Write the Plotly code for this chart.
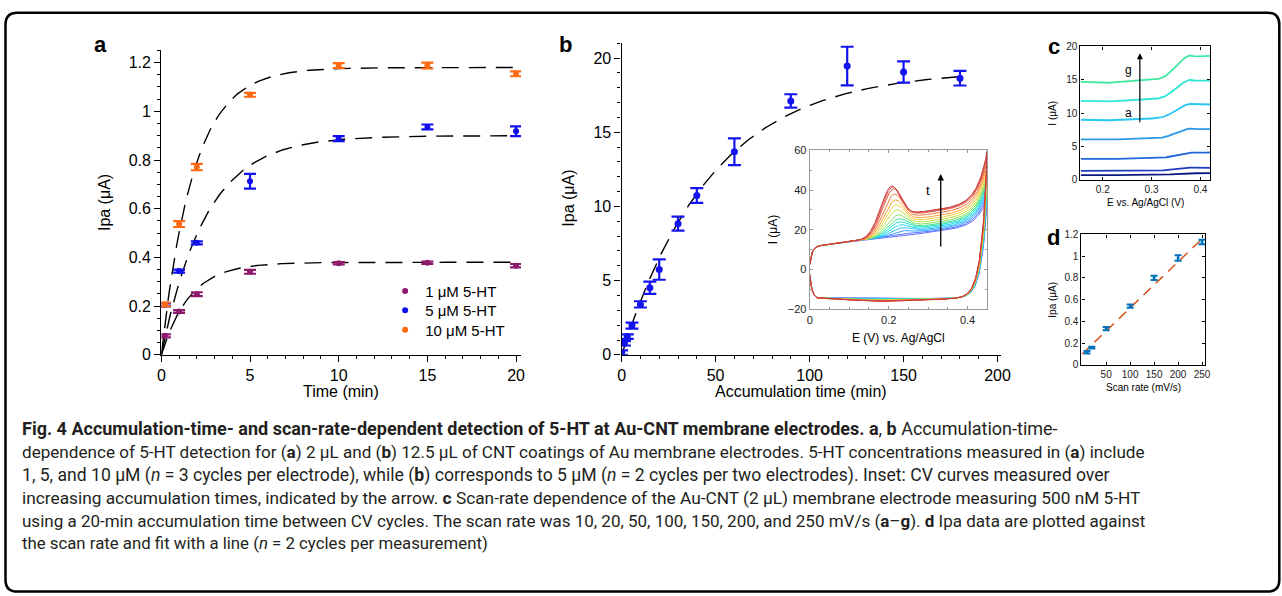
import numpy as np
import plotly.graph_objects as go

W, H = 1282, 596

# ---------------- Panel a data ----------------
a_time = [0.2, 1, 2, 5, 10, 15, 20]
a_1uM = [0.078, 0.178, 0.249, 0.341, 0.376, 0.378, 0.366]
a_1uM_err = [0.006, 0.006, 0.008, 0.008, 0.005, 0.005, 0.007]
a_5uM = [0.205, 0.344, 0.460, 0.713, 0.888, 0.936, 0.918]
a_5uM_err = [0.006, 0.006, 0.006, 0.030, 0.010, 0.010, 0.020]
a_10uM = [0.207, 0.537, 0.771, 1.068, 1.188, 1.188, 1.154]
a_10uM_err = [0.008, 0.012, 0.013, 0.008, 0.010, 0.012, 0.010]
a_names = ["1 \u03bcM 5-HT", "5 \u03bcM 5-HT", "10 \u03bcM 5-HT"]
a_colors = ["#8e1a6e", "#1010ee", "#ff6a13"]
# exponential fit parameters (plateau, time constant) per concentration
a_fit_plateau = [0.38, 0.90, 1.18]
a_fit_tau = [1.6, 2.5, 1.8]

# ---------------- Panel b data ----------------
b_time = [0, 1.5, 3, 5.5, 10, 15, 20, 30, 40, 60, 90, 120, 150, 180]
b_ipa = [0.15, 0.78, 1.23, 1.97, 3.40, 4.52, 5.75, 8.84, 10.74, 13.69, 17.11, 19.46, 19.06, 18.64]
b_err = [0.15, 0.15, 0.15, 0.20, 0.21, 0.41, 0.69, 0.47, 0.50, 0.90, 0.45, 1.30, 0.72, 0.49]
b_fit_plateau = 19.2
b_fit_tau = 48.0

# ---------------- Inset (CV curves) ----------------
cv_peak = [17, 18, 19.5, 21, 22.5, 24, 25.5, 27.5, 30, 32.5, 35, 38, 40.5, 41.5, 42]
cv_end = [36, 38, 40, 41.5, 43, 44.5, 46, 47.5, 49, 51, 53, 55, 57, 58.5, 60]
cv_colors = ["#6a6aff", "#4f7dff", "#3a9cff", "#2ec0ff", "#22d8f0", "#20e0c8", "#40e090",
             "#80e060", "#c0e040", "#f0d040", "#f8a030", "#f07838", "#e05a40", "#d84848", "#cc3c3c"]

# ---------------- Panel c ----------------
c_start = [0.7, 1.3, 3.1, 6.0, 8.9, 11.7, 14.5]
c_step = [0.25, 0.45, 0.85, 1.45, 2.15, 2.85, 3.6]
c_end = [1.0, 1.8, 4.1, 7.6, 11.3, 14.9, 18.6]
c_colors = ["#0c1a80", "#1c3cc0", "#1f66dc", "#2a9ae6", "#29c8f2", "#2ee6d6", "#3ee8a0"]

# ---------------- Panel d ----------------
d_rate = [10, 20, 50, 100, 150, 200, 250]
d_ipa = [0.116, 0.159, 0.333, 0.541, 0.801, 0.984, 1.131]
d_err = [0.012, 0.008, 0.015, 0.015, 0.020, 0.025, 0.020]
d_slope = 0.00424
d_intercept = 0.10

FONT = "Liberation Sans, Arial, Helvetica, sans-serif"
CAPFONT = "Roboto, Open Sans, sans-serif"

# screen-pixel -> paper mapping (compensates the capture's slight scale/offset)
SX, OX, SY, OY = 0.99, 2.5, 0.98, 4.3


def PX(p):
    return ((p - OX) / SX) / W


def PY(p):
    return 1 - ((p - OY) / SY) / H


fig = go.Figure()


def err_trace(x, y, err, color, xa, ya, size, capw, thick, name=None, legend=None):
    kw = dict(showlegend=False)
    if legend:
        kw = dict(showlegend=True, legend=legend)
    fig.add_trace(go.Scatter(
        x=x, y=y, mode="markers", name=name,
        marker=dict(color=color, size=size),
        error_y=dict(type="data", array=err, color=color, thickness=thick, width=capw),
        xaxis=xa, yaxis=ya, **kw))


# ---- panel a ----
ta = np.linspace(0, 20, 301)
for P, tau in zip(a_fit_plateau, a_fit_tau):
    fig.add_trace(go.Scatter(x=ta, y=P * (1 - np.exp(-ta / tau)), mode="lines",
                             line=dict(color="black", width=1.4, dash="17px,10px"),
                             showlegend=False, xaxis="x", yaxis="y", hoverinfo="skip"))
for ys, es, col, nm, lg in zip([a_1uM, a_5uM, a_10uM], [a_1uM_err, a_5uM_err, a_10uM_err],
                               a_colors, a_names, ["legend", "legend2", "legend3"]):
    err_trace(a_time, ys, es, col, "x", "y", 6, 6, 2.2, nm, lg)

# ---- panel b ----
tb = np.linspace(0, 180, 301)
fig.add_trace(go.Scatter(x=tb, y=b_fit_plateau * (1 - np.exp(-tb / b_fit_tau)), mode="lines",
                         line=dict(color="black", width=1.4, dash="17px,10px"),
                         showlegend=False, xaxis="x2", yaxis="y2", hoverinfo="skip"))
err_trace(b_time, b_ipa, b_err, "#1414f0", "x2", "y2", 7, 6.5, 2.2)

# ---- inset CVs ----
N = len(cv_peak)
E_up = np.linspace(0, 0.45, 300)
E_dn = E_up[::-1]


def base(E):
    return 12 + 24 * (E - 0.02) - 9 * np.exp(-E / 0.006)


for k in range(N):
    mu = 0.24 - 0.032 * k / (N - 1)
    P = cv_peak[k] - base(mu)
    r = 0.42
    shape = np.where(E_up < mu, np.exp(-((E_up - mu) / 0.04) ** 2),
                     r + (1 - r) * np.exp(-((E_up - mu) / 0.03) ** 2))
    R = cv_end[k] - (base(0.45) + r * P)
    I_up = base(E_up) + P * shape + R * np.exp((E_up - 0.45) / 0.025)
    dk = 1.5 * k / (N - 1)
    I_dn = (-14.5 - dk * np.exp(-((E_dn - 0.2) / 0.12) ** 2)
            + (cv_end[k] + 14.5) * np.exp((E_dn - 0.45) / 0.015)
            + 12 * np.exp(-E_dn / 0.006))
    fig.add_trace(go.Scatter(x=np.concatenate([E_up, E_dn]), y=np.concatenate([I_up, I_dn]),
                             mode="lines", line=dict(color=cv_colors[k], width=1),
                             showlegend=False, xaxis="x3", yaxis="y3", hoverinfo="skip"))

# ---- panel c ----
Ec = np.linspace(0.155, 0.42, 300)
for v0, h, ve, col in zip(c_start, c_step, c_end, c_colors):
    I = (v0 + 0.05 * h * np.clip((0.2 - Ec) / 0.045, 0, 1)
         + 0.12 * h * np.clip((Ec - 0.2) / 0.1, 0, 1)
         + h / (1 + np.exp(-(Ec - 0.345) / 0.011))
         + 0.08 * h * np.exp(-((Ec - 0.376) / 0.01) ** 2))
    I = I + (ve - (v0 + 1.12 * h)) * np.clip((Ec - 0.4) / 0.02, 0, 1)
    fig.add_trace(go.Scatter(x=Ec, y=I, mode="lines", line=dict(color=col, width=1.8),
                             showlegend=False, xaxis="x4", yaxis="y4", hoverinfo="skip"))

# ---- panel d ----
xd = np.linspace(0, 252, 50)
fig.add_trace(go.Scatter(x=xd, y=d_intercept + d_slope * xd, mode="lines",
                         line=dict(color="#D95319", width=1.5, dash="10px,7px"),
                         showlegend=False, xaxis="x5", yaxis="y5", hoverinfo="skip"))
err_trace(d_rate, d_ipa, d_err, "#0072BD", "x5", "y5", 3, 3.5, 2)


def dx(p0, p1):
    return [PX(p0), PX(p1)]


def dy(top, bottom):
    return [PY(bottom), PY(top)]


def big_axis(domain, rng, dtick, minor, anchor):
    return dict(domain=domain, range=rng, dtick=dtick, tick0=0, anchor=anchor,
                showgrid=False, zeroline=False, showline=True, linecolor="black", linewidth=1.4,
                ticks="outside", ticklen=6, tickwidth=1.2, tickcolor="black",
                minor=dict(dtick=minor, ticks="outside", ticklen=3, tickcolor="black", showgrid=False),
                tickfont=dict(family=FONT, size=16, color="black"))


def small_axis(domain, rng, anchor, lc, size, **kw):
    d = dict(domain=domain, range=rng, anchor=anchor, showgrid=False, zeroline=False,
             showline=True, linecolor=lc, linewidth=1.2, mirror="ticks",
             ticks="inside", ticklen=3, tickcolor=lc,
             tickfont=dict(family=FONT, size=size, color="#222"))
    d.update(kw)
    return d


def leg(py):
    return dict(x=PX(384), y=PY(py), xanchor="left", yanchor="middle",
                bgcolor="rgba(0,0,0,0)", font=dict(family=FONT, size=15, color="black"),
                itemwidth=30)


layout = dict(
    width=W, height=H, margin=dict(l=0, r=0, t=0, b=0),
    paper_bgcolor="white", plot_bgcolor="white",
    xaxis=big_axis(dx(160, 520), [0, 20.28], 5, 1, "y"),
    yaxis=big_axis(dy(49, 355), [0, 1.25], 0.2, 0.05, "x"),
    xaxis2=big_axis(dx(620.7, 1000), [0, 201.6], 50, 10, "y2"),
    yaxis2=big_axis(dy(41.7, 355), [0, 21], 5, 1, "x2"),
    xaxis3=small_axis(dx(809, 986.7), [0, 0.45], "y3", "#999", 11, dtick=0.2, tick0=0,
                      minor=dict(dtick=0.05, ticks="inside", ticklen=2, tickcolor="#999")),
    yaxis3=small_axis(dy(149.3, 309.3), [-20, 60], "x3", "#999", 11, dtick=20, tick0=0,
                      minor=dict(dtick=10, ticks="inside", ticklen=2, tickcolor="#999")),
    xaxis4=small_axis(dx(1080, 1210), [0.1544, 0.4205], "y4", "black", 10, dtick=0.1, tick0=0),
    yaxis4=small_axis(dy(45, 179), [0, 20], "x4", "black", 10, dtick=5, tick0=0),
    xaxis5=small_axis(dx(1081, 1205), [-1.5, 257], "y5", "black", 10, tickvals=[50, 100, 150, 200, 250]),
    yaxis5=small_axis(dy(234, 365), [0, 1.2], "x5", "black", 10, dtick=0.2, tick0=0),
    legend=leg(291), legend2=leg(310.5), legend3=leg(330),
    showlegend=True,
)
fig.update_layout(**layout)

anns = []


def ann(text, px, py, size, angle=0, xanchor="center", family=FONT, color="black"):
    anns.append(dict(text=text, x=PX(px), y=PY(py), xref="paper", yref="paper",
                     showarrow=False, textangle=angle, xanchor=xanchor, yanchor="middle",
                     font=dict(family=family, size=size, color=color)))


# panel letters
ann("<b>a</b>", 99, 43, 22)
ann("<b>b</b>", 565, 43, 22)
ann("<b>c</b>", 1053, 45, 22)
ann("<b>d</b>", 1053, 237, 22)
# axis titles
ann("Time (min)", 340, 392, 16)
ann("Ipa (\u03bcA)", 103, 202, 16, -90)
ann("Accumulation time (min)", 800, 392, 16)
ann("Ipa (\u03bcA)", 568, 197, 16, -90)
ann("E (V) vs. Ag/AgCl", 898, 338, 12)
ann("I (\u03bcA)", 772, 229, 12, -90)
ann("E vs. Ag/AgCl (V)", 1145, 202, 10)
ann("I (\u03bcA)", 1052, 112, 10, -90)
ann("Scan rate (mV/s)", 1143, 388, 10)
ann("Ipa (\u03bcA)", 1052, 300, 10, -90)

# arrows and labels in data coordinates
anns.append(dict(x=0.332, y=48, ax=0.332, ay=10.8, xref="x3", yref="y3", axref="x3", ayref="y3",
                 showarrow=True, arrowhead=2, arrowsize=1, arrowwidth=1.3, arrowcolor="black", text=""))
anns.append(dict(x=0.299, y=40, xref="x3", yref="y3", text="t", showarrow=False,
                 font=dict(family=FONT, size=13, color="black")))
anns.append(dict(x=0.276, y=19, ax=0.276, ay=8.4, xref="x4", yref="y4", axref="x4", ayref="y4",
                 showarrow=True, arrowhead=2, arrowsize=1, arrowwidth=1.2, arrowcolor="black", text=""))
anns.append(dict(x=0.252, y=16.4, xref="x4", yref="y4", text="g", showarrow=False,
                 font=dict(family=FONT, size=12, color="black")))
anns.append(dict(x=0.252, y=10.0, xref="x4", yref="y4", text="a", showarrow=False,
                 font=dict(family=FONT, size=12, color="black")))

# caption
cap_lines = [
    "<b>Fig. 4 Accumulation-time- and scan-rate-dependent detection of 5-HT at Au-CNT membrane electrodes. a</b>, <b>b</b> Accumulation-time-",
    "dependence of 5-HT detection for (<b>a</b>) 2 \u00b5L and (<b>b</b>) 12.5 \u00b5L of CNT coatings of Au membrane electrodes. 5-HT concentrations measured in (<b>a</b>) include",
    "1, 5, and 10 \u00b5M (<i>n</i> = 3 cycles per electrode), while (<b>b</b>) corresponds to 5 \u00b5M (<i>n</i> = 2 cycles per two electrodes). Inset: CV curves measured over",
    "increasing accumulation times, indicated by the arrow. <b>c</b> Scan-rate dependence of the Au-CNT (2 \u00b5L) membrane electrode measuring 500 nM 5-HT",
    "using a 20-min accumulation time between CV cycles. The scan rate was 10, 20, 50, 100, 150, 200, and 250 mV/s (<b>a</b>\u2013<b>g</b>). <b>d</b> Ipa data are plotted against",
    "the scan rate and fit with a line (<i>n</i> = 2 cycles per measurement)",
]
cap_y = [429, 453, 476, 499, 522, 544]
cap_size = [18.0, 17.1, 17.6, 17.3, 17.0, 16.8]
for t, yy, sz in zip(cap_lines, cap_y, cap_size):
    ann(t, 19, yy, sz, xanchor="left", family=CAPFONT, color="#231f20")

fig.update_layout(annotations=anns)

# rounded outer frame
x0, x1, y0, y1, r = 4, 1279, 11, 593, 12
path = (f"M {PX(x0 + r)},{PY(y0)} L {PX(x1 - r)},{PY(y0)} Q {PX(x1)},{PY(y0)} {PX(x1)},{PY(y0 + r)} "
        f"L {PX(x1)},{PY(y1 - r)} Q {PX(x1)},{PY(y1)} {PX(x1 - r)},{PY(y1)} "
        f"L {PX(x0 + r)},{PY(y1)} Q {PX(x0)},{PY(y1)} {PX(x0)},{PY(y1 - r)} "
        f"L {PX(x0)},{PY(y0 + r)} Q {PX(x0)},{PY(y0)} {PX(x0 + r)},{PY(y0)} Z")
fig.update_layout(shapes=[dict(type="path", path=path, xref="paper", yref="paper",
                               line=dict(color="black", width=2.5))])

fig.write_html("out.html", config={"displayModeBar": False},
               post_script="document.body.style.margin='0px';document.body.style.overflow='hidden';")
